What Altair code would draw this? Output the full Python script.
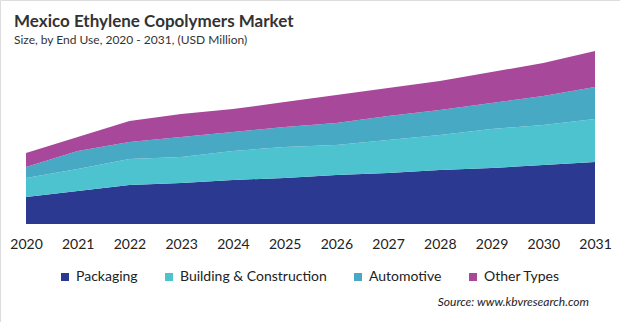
import altair as alt
import pandas as pd

years = list(range(2020, 2032))
series = ["Packaging", "Building & Construction", "Automotive", "Other Types"]
colors = ["#2B3990", "#4CC3CF", "#47A9C4", "#A8489B"]

packaging = [27, 33, 39, 41, 44, 46, 49, 51, 54, 56, 59, 62]
building = [19, 22, 26, 26, 29, 31, 30, 33, 35, 39, 40, 43]
automotive = [11, 18, 17, 20, 19, 20, 22, 24, 25, 26, 29, 32]
other = [14, 14, 21, 23, 23, 25, 28, 28, 29, 31, 33, 36]

TITLE = "Mexico Ethylene Copolymers Market"
SUBTITLE = "Size, by End Use, 2020 - 2031, (USD Million)"
SOURCE = "Source: www.kbvresearch.com"

rows = []
for i, (name, vals) in enumerate(zip(series, [packaging, building, automotive, other])):
    for y, v in zip(years, vals):
        rows.append({"Year": y, "Segment": name, "Value": v, "idx": i})
df = pd.DataFrame(rows)

FONT = "Lato"

area = alt.Chart(df).mark_area(interpolate="linear").encode(
    x=alt.X("Year:Q",
            scale=alt.Scale(domain=[2020, 2031], range=[26, 595]),
            axis=alt.Axis(title=None, format="d", values=years, grid=False,
                          domain=False, ticks=False, offset=-90, labelPadding=5,
                          labelFontSize=14, labelColor="#222", labelFont=FONT,
                          labelBaseline="top", labelFlush=False, labelOverlap=False,
                          labelBound=False)),
    y=alt.Y("Value:Q", stack="zero",
            scale=alt.Scale(domain=[0, 200], range=[224, 24]),
            axis=None),
    color=alt.Color("Segment:N",
                    scale=alt.Scale(domain=series, range=colors),
                    legend=alt.Legend(title=None, orient="none", legendX=58, legendY=270,
                                      direction="horizontal", symbolType="square",
                                      symbolSize=64, symbolStrokeWidth=0,
                                      labelFontSize=14, labelFont=FONT, labelColor="#222",
                                      columnPadding=24, labelOffset=4)),
    order=alt.Order("idx:Q", sort="ascending"),
)

title = alt.Chart(pd.DataFrame({"t": [TITLE]})).mark_text(
    align="left", baseline="alphabetic", fontSize=17, fontWeight="bold",
    font=FONT, color="#333"
).encode(text="t:N", x=alt.value(14), y=alt.value(27))

subtitle = alt.Chart(pd.DataFrame({"t": [SUBTITLE]})).mark_text(
    align="left", baseline="alphabetic", fontSize=12, font=FONT, color="#333"
).encode(text="t:N", x=alt.value(14), y=alt.value(44))

source = alt.Chart(pd.DataFrame({"t": [SOURCE]})).mark_text(
    align="right", baseline="middle", fontSize=12, font=FONT, fontStyle="italic",
    color="#222"
).encode(text="t:N", x=alt.value(589), y=alt.value(302))

chart = alt.layer(area, title, subtitle, source).properties(
    width=620, height=322,
    autosize=alt.AutoSizeParams(type="none"),
    padding=0,
).configure_view(stroke="#444", strokeWidth=4).configure(background="white")

chart.save("out.html", embed_options={"renderer": "svg", "actions": False})
